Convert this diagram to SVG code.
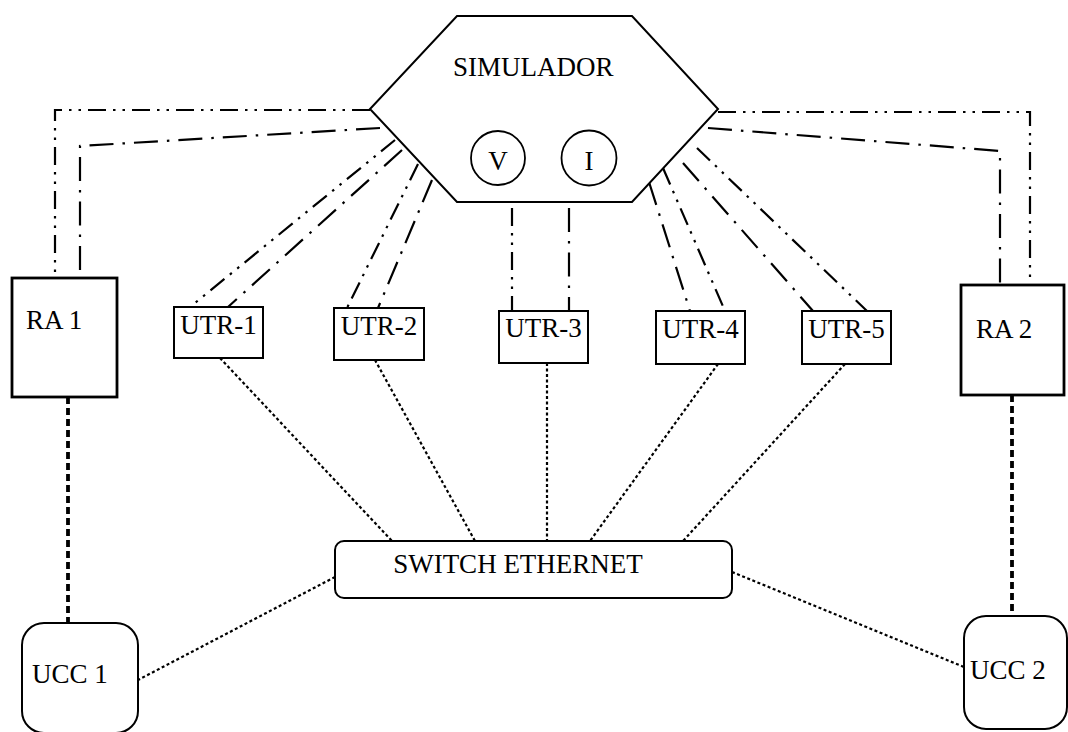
<svg xmlns="http://www.w3.org/2000/svg" width="1068" height="732" viewBox="0 0 1068 732">
<style>
text{font-family:"Liberation Serif","Times New Roman",serif;font-size:27px;fill:#000}
.box{fill:#fff;stroke:#000;stroke-width:2}
.ra{fill:#fff;stroke:#000;stroke-width:2.8}
.c{fill:none;stroke:#000}
.dd{stroke-width:2.2;stroke-dasharray:18,7,2.5,7,2.5,7}
.d1{stroke-width:2.2;stroke-dasharray:24,9,2.5,9}
.dot{stroke-width:2.2;stroke-dasharray:3,2.5}
.thick{stroke-width:3.8;stroke-dasharray:7,4}
</style>
<rect width="1068" height="732" fill="#fff"/>
<g id="connectors">
<path class="c dd" d="M370,110 H55 V278"/>
<path class="c d1" d="M380,128 L80,146 V278"/>
<path class="c dd" d="M718,112 H1030 V285"/>
<path class="c d1" d="M708,128 L1000,151 V285"/>
<path class="c dd" d="M395,140 L190,307"/>
<path class="c d1" d="M402,150 L228,307"/>
<path class="c dd" d="M418,164 L347,308"/>
<path class="c d1" d="M432,180 L378,308"/>
<path class="c dd" d="M512,208 V311"/>
<path class="c d1" d="M569,208 V311"/>
<path class="c d1" d="M649,182 L690,311"/>
<path class="c dd" d="M663,168 L725,311"/>
<path class="c d1" d="M683,163 L813,311"/>
<path class="c dd" d="M697,148 L867,311"/>
<path class="c dot" d="M220,358 L392,541"/>
<path class="c dot" d="M375,360 L475,541"/>
<path class="c dot" d="M547,363 V541"/>
<path class="c dot" d="M718,364 L590,541"/>
<path class="c dot" d="M845,364 L683,541"/>
<path class="c dot" d="M335,577 L138,680"/>
<path class="c dot" d="M732,572 L964,667"/>
<path class="c thick" d="M68,397 V623"/>
<path class="c thick" d="M1012,395 V616"/>
</g>
<g id="simulador">
<polygon points="457,16 632,16 718,109 632,202 457,202 370,109" fill="#fff" stroke="#000" stroke-width="2"/>
<text x="453" y="76">SIMULADOR</text>
</g>
<g id="V">
<circle cx="498" cy="158" r="27" fill="#fff" stroke="#000" stroke-width="1.8"/>
<text x="498" y="170" text-anchor="middle">V</text>
</g>
<g id="I">
<circle cx="589" cy="158" r="27.5" fill="#fff" stroke="#000" stroke-width="1.8"/>
<text x="589" y="170" text-anchor="middle">I</text>
</g>
<g id="ra1">
<rect class="ra" x="12" y="278" width="105" height="119"/>
<text x="26" y="329">RA 1</text>
</g>
<g id="ra2">
<rect class="ra" x="961" y="285" width="103" height="110"/>
<text x="976" y="338">RA 2</text>
</g>
<g id="utr1">
<rect class="box" x="174" y="307" width="89" height="51"/>
<text x="218.5" y="334" text-anchor="middle">UTR-1</text>
</g>
<g id="utr2">
<rect class="box" x="334" y="308" width="90" height="52"/>
<text x="379" y="335" text-anchor="middle">UTR-2</text>
</g>
<g id="utr3">
<rect class="box" x="499" y="311" width="89" height="52"/>
<text x="543.5" y="337" text-anchor="middle">UTR-3</text>
</g>
<g id="utr4">
<rect class="box" x="656" y="311" width="89" height="53"/>
<text x="700.5" y="338" text-anchor="middle">UTR-4</text>
</g>
<g id="utr5">
<rect class="box" x="802" y="311" width="89" height="53"/>
<text x="846.5" y="338" text-anchor="middle">UTR-5</text>
</g>
<g id="switch">
<rect class="box" x="335" y="541" width="397" height="57" rx="9"/>
<text x="518" y="573" text-anchor="middle">SWITCH ETHERNET</text>
</g>
<g id="ucc1">
<rect class="box" x="22" y="623" width="116" height="110" rx="22"/>
<text x="32" y="683">UCC 1</text>
</g>
<g id="ucc2">
<rect class="box" x="964" y="616" width="103" height="113" rx="22"/>
<text x="970" y="679">UCC 2</text>
</g>
</svg>
